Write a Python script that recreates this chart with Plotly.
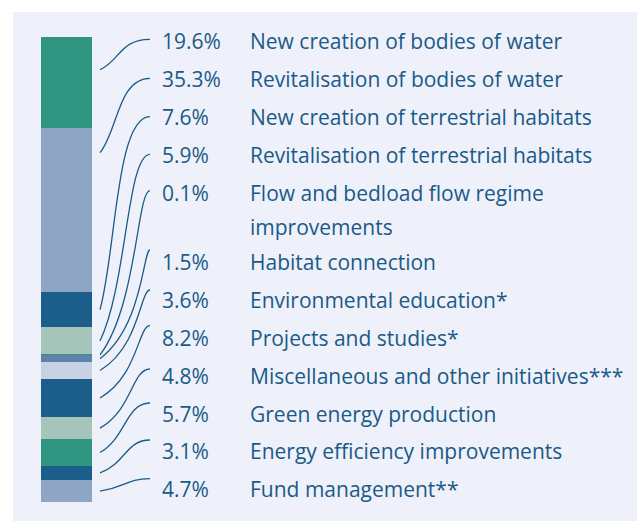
import plotly.graph_objects as go
import numpy as np

# ---- data ----
categories = [
    "New creation of bodies of water",
    "Revitalisation of bodies of water",
    "New creation of terrestrial habitats",
    "Revitalisation of terrestrial habitats",
    "Flow and bedload flow regime<br>improvements",
    "Habitat connection",
    "Environmental education*",
    "Projects and studies*",
    "Miscellaneous and other initiatives***",
    "Green energy production",
    "Energy efficiency improvements",
    "Fund management**",
]
values = [19.6, 35.3, 7.6, 5.9, 0.1, 1.5, 3.6, 8.2, 4.8, 5.7, 3.1, 4.7]
value_labels = ["19.6%", "35.3%", "7.6%", "5.9%", "0.1%", "1.5%", "3.6%",
                "8.2%", "4.8%", "5.7%", "3.1%", "4.7%"]

# ---- style ----
colors = ["#2f9480", "#8fa5c5", "#1b5e8c", "#a5c5bb", "#2f9480", "#5f82ab",
          "#c7d2e5", "#1b5e8c", "#a5c5bb", "#2f9480", "#1b5e8c", "#8fa5c5"]
BG = "#eef1f9"
TXT = "#1b5a88"
LINE = "#1b5a88"
FONT = "Open Sans"
FS = 21

W, H = 637, 521
TOP, BOT = 37, 502            # pixel extent of the bar
PLOT_H = BOT - TOP
total = sum(values)

def px2val(py):
    return (py - TOP) / PLOT_H * total

# label rows (pixel rows of text centres) - layout
row_px = [40.5, 78.5, 116.5, 154.5, 192.5, 262, 300, 337.5, 375.5, 413.5, 451, 489]
wrap_px = 227
# where each connector leaves the bar (fraction of segment) and ends
anchor_frac = [0.36, 0.15, 0.5, 0.5, 0.5, 0.5, 0.5, 0.5, 0.5, 0.5, 0.5, 0.5]
end_px = [39.3, 78.3, 116.7, 154.3, 190.7, 250, 290, 325.7, 369, 403, 440, 478.7]
bend_x = [120, 118, 116, 127, 137, 143, 140, 138, 132, 126, 126, 126]

BAR_X0, BAR_X1 = 41, 92
LINE_X0, LINE_X1 = 100, 150
PCT_X, NAME_X = 160, 248

fig = go.Figure()

cum = np.concatenate([[0], np.cumsum(values)[:-1]])
for i, (v, b) in enumerate(zip(values, cum)):
    fig.add_trace(go.Bar(
        x=[(BAR_X0 + BAR_X1) / 2], y=[v], base=[b], width=BAR_X1 - BAR_X0,
        marker=dict(color=colors[i], line=dict(width=0)),
        showlegend=False, hoverinfo="skip"))

shapes = []
# panel background
shapes.append(dict(type="rect", xref="paper", yref="paper",
                   x0=13 / W, x1=1.02, y0=(BOT - 530) / PLOT_H, y1=(BOT - 12) / PLOT_H,
                   fillcolor=BG, line=dict(width=0), layer="below"))

annotations = []
def add_text(x, ypx, text):
    annotations.append(dict(x=x, y=px2val(ypx), xref="x", yref="y",
                            text=text, showarrow=False,
                            xanchor="left", yanchor="middle",
                            font=dict(family=FONT, size=FS, color=TXT)))

for i in range(len(values)):
    y0px = TOP + (cum[i] + anchor_frac[i] * values[i]) / total * PLOT_H
    y1px = end_px[i]
    dy = y0px - y1px
    xv = bend_x[i]
    pts = [(LINE_X0, y0px), (xv, y0px - 0.3 * dy), (xv, y1px), (LINE_X1, y1px)]
    path = "M {},{} C {},{} {},{} {},{}".format(
        *[c for p in pts for c in (p[0], px2val(p[1]))])
    shapes.append(dict(type="path", xref="x", yref="y", path=path,
                       line=dict(color=LINE, width=1.3)))

    add_text(PCT_X, row_px[i], value_labels[i])
    name = categories[i]
    if "<br>" in name:
        first, second = name.split("<br>")
        add_text(NAME_X, row_px[i], first)
        add_text(NAME_X, wrap_px, second)
    else:
        add_text(NAME_X, row_px[i], name)

fig.update_layout(
    width=W, height=H,
    margin=dict(l=0, r=0, t=TOP, b=H - BOT, pad=0),
    paper_bgcolor="white", plot_bgcolor="rgba(0,0,0,0)",
    barmode="overlay", bargap=0,
    xaxis=dict(range=[0, W], visible=False, fixedrange=True),
    yaxis=dict(range=[total, 0], visible=False, fixedrange=True),
    shapes=shapes, annotations=annotations,
)

fig.write_html("out.html", config={"displayModeBar": False},
               post_script="document.body.style.margin='0';")
